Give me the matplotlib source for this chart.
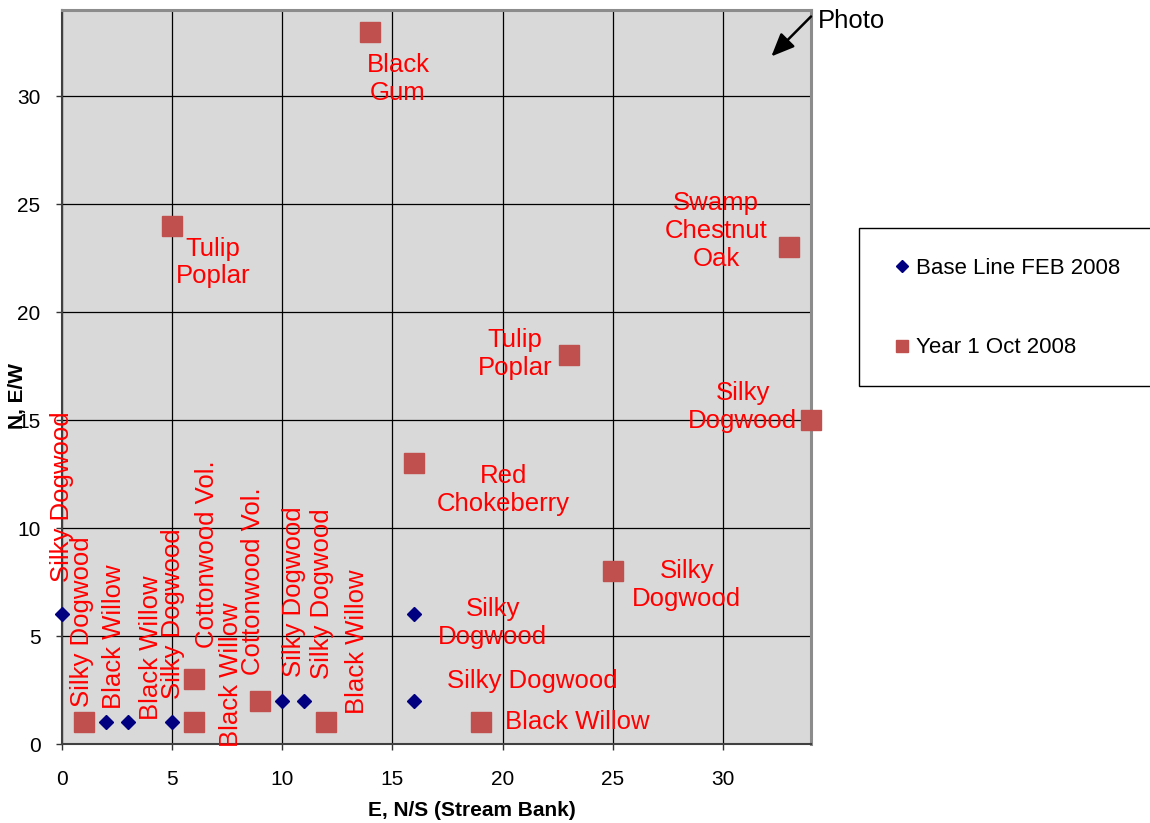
import matplotlib
matplotlib.use('Agg')
import matplotlib.pyplot as plt
from matplotlib.lines import Line2D
from matplotlib.patches import Rectangle

# base line survey (Feb 2008)
base_x = [0, 2, 3, 5, 10, 11, 16, 16]
base_y = [6, 1, 1, 1, 2, 2, 6, 2]

# year 1 survey (Oct 2008)
year1_x = [1, 6, 6, 9, 12, 14, 5, 23, 16, 25, 19, 33, 34]
year1_y = [1, 3, 1, 2, 1, 33, 24, 18, 13, 8, 1, 23, 15]

# species labels written beside the points
labels = ['Black\nGum', 'Tulip\nPoplar', 'Swamp\nChestnut\nOak', 'Tulip\nPoplar',
          'Silky\nDogwood', 'Red\nChokeberry', 'Silky\nDogwood', 'Silky\nDogwood',
          'Silky Dogwood', 'Black Willow']
label_pos = [(15.25, 30.8), (6.85, 22.3), (29.7, 23.75), (20.55, 18.05),
             (30.9, 15.6), (20.05, 11.75), (28.35, 7.35), (19.55, 5.6),
             (21.35, 2.9), (23.4, 1.0)]

# labels written vertically in the crowded bottom-left corner
vlabels = ['Silky Dogwood', 'Silky Dogwood', 'Black Willow', 'Black Willow',
           'Silky Dogwood', 'Cottonwood Vol.', 'Black Willow', 'Cottonwood Vol.',
           'Silky Dogwood', 'Silky Dogwood', 'Black Willow']
vlabel_pos = [(0.0, 11.45), (0.93, 5.65), (2.36, 4.97), (4.04, 4.45),
              (5.04, 6.05), (6.58, 8.8), (7.67, 3.2), (8.65, 7.55),
              (10.53, 7.05), (11.82, 6.95), (13.41, 4.75)]

series_names = ['Base Line FEB 2008', 'Year 1 Oct 2008']

plt.rcParams['font.family'] = ['Liberation Sans', 'DejaVu Sans']

W, H = 1150, 823
fig = plt.figure(figsize=(W / 100, H / 100), dpi=100)
ax = fig.add_axes([62 / W, 1 - 744 / H, (811 - 62) / W, (744 - 10) / H])
ax.set_facecolor('#D9D9D9')

ax.set_xlim(0, 34)
ax.set_ylim(0, 34)
ax.set_xticks(range(0, 35, 5))
ax.set_yticks(range(0, 35, 5))
ax.grid(True, color='black', linewidth=0.9)
ax.set_axisbelow(True)
ax.tick_params(labelsize=15, length=4.5, width=1, colors='#333333',
               labelcolor='black')
ax.tick_params(axis='x', pad=14)
ax.tick_params(axis='y', pad=11)

for side in ['top', 'right']:
    ax.spines[side].set_color('#8C8C8C')
    ax.spines[side].set_linewidth(2.2)
for side in ['left', 'bottom']:
    ax.spines[side].set_color('#404040')
    ax.spines[side].set_linewidth(1.5)

ax.plot(base_x, base_y, 'D', color='#000080', markersize=7.5,
        linestyle='none', clip_on=False, zorder=3)
ax.plot(year1_x, year1_y, 's', color='#C0504D', markeredgecolor='#C0504D',
        markersize=15, linestyle='none', clip_on=False, zorder=3)

for txt, (lx, ly) in zip(labels, label_pos):
    ax.text(lx, ly, txt, color='red', fontsize=18.5, ha='center', va='center',
            multialignment='center', zorder=4)
for txt, (lx, ly) in zip(vlabels, vlabel_pos):
    ax.text(lx, ly, txt, color='red', fontsize=18.5, ha='center', va='center',
            rotation=90, clip_on=False, zorder=4)

# photo arrow in the top right corner
ax.annotate('', xy=(32.2, 31.85), xytext=(34.0, 33.7),
            arrowprops=dict(arrowstyle='-|>,head_length=0.7,head_width=0.3',
                            color='black', lw=1.8, mutation_scale=20,
                            shrinkA=0, shrinkB=0),
            annotation_clip=False)
ax.text(34.32, 33.47, 'Photo', fontsize=18.5, ha='left', va='center',
        clip_on=False)

# axis titles
fig.text(472 / W, 1 - 810 / H, 'E, N/S (Stream Bank)', fontsize=15,
         fontweight='bold', ha='center', va='center')
fig.text(17 / W, 1 - 396 / H, 'N, E/W', fontsize=15, fontweight='bold',
         ha='center', va='center', rotation=90)

# legend box, cut by the right edge of the picture
fig.patches.append(Rectangle((859 / W, 1 - 386 / H), 300 / W, 158 / H,
                             transform=fig.transFigure, facecolor='white',
                             edgecolor='black', linewidth=1))
handles = [Line2D([], [], marker='D', color='#000080', linestyle='none',
                  markersize=6),
           Line2D([], [], marker='s', color='#C0504D', linestyle='none',
                  markersize=9)]
fig.legend(handles, series_names, loc='center left',
           bbox_to_anchor=(893 / W, 1 - 308 / H), frameon=False,
           fontsize=16, labelspacing=2.65, handlelength=0.8,
           handletextpad=0.25, borderpad=0, borderaxespad=0)

fig.savefig('out.png', dpi=100)
